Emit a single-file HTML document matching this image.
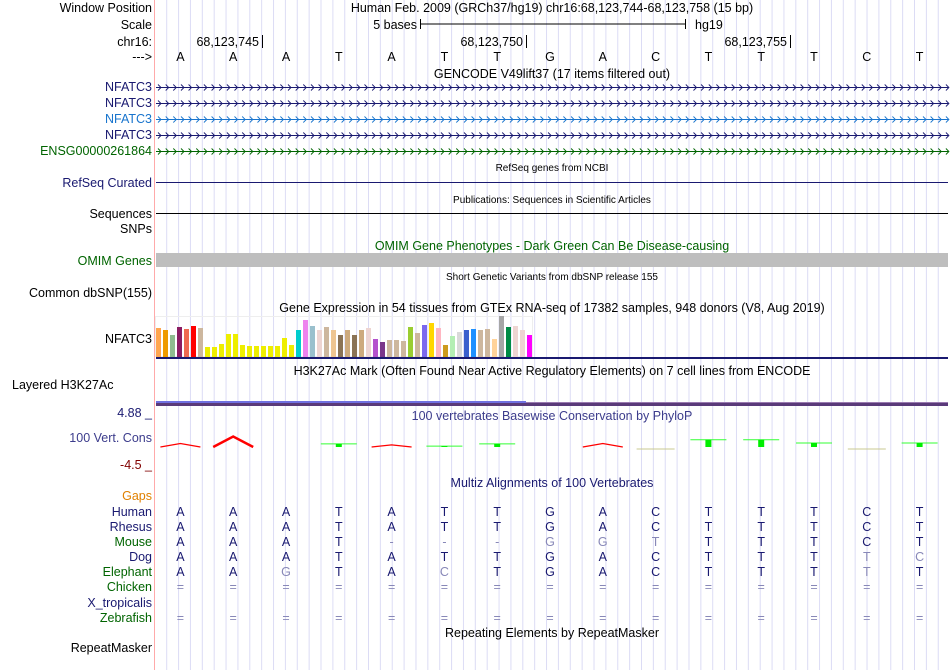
<!DOCTYPE html>
<html><head><meta charset="utf-8"><style>
html,body{margin:0;padding:0;background:#fff;width:950px;height:670px;overflow:hidden}
svg{display:block;font-family:"Liberation Sans",sans-serif}
</style></head><body>
<svg id="s" width="950" height="670" viewBox="0 0 950 670">
<g id="grid"></g>
<line x1="154.5" y1="0" x2="154.5" y2="670" stroke="#ffaaaa" stroke-width="1"/>
<g id="labels" font-size="12.5" text-anchor="end"></g>
<g id="main" font-size="12.5"></g>
</svg>
<script>
const NS="http://www.w3.org/2000/svg";
const main=document.getElementById('main');
const labs=document.getElementById('labels');
const grid=document.getElementById('grid');
function mk(tag,attrs,parent,txt){const e=document.createElementNS(NS,tag);for(const k in attrs)e.setAttribute(k,attrs[k]);if(txt!==undefined)e.textContent=txt;(parent||main).appendChild(e);return e;}

// ---- data ----
const bases=["A","A","A","T","A","T","T","G","A","C","T","T","T","C","T"];
const mouse=["A","A","A","T","-","-","-","G","G","T","T","T","T","C","T"];
const mouseGray=[0,0,0,0,1,1,1,1,1,1,0,0,0,0,0];
const dog=["A","A","A","T","A","T","T","G","A","C","T","T","T","T","C"];
const dogGray=[0,0,0,0,0,0,0,0,0,0,0,0,0,1,1];
const eleph=["A","A","G","T","A","C","T","G","A","C","T","T","T","T","T"];
const elephGray=[0,0,1,0,0,1,0,0,0,0,0,0,0,1,0];
const phylop=[-0.5,-1.5,0,0.35,-0.3,0.1,0.35,0,-0.5,-0.2,0.8,0.8,0.45,-0.2,0.45];
const gtexValues=[29,27,22,30,28,31,29,10,10,13,23,23,12,11,11,11,11,11,19,12,27,37,31,27,30,27,22,27,22,27,29,18,15,17,17,16,30,24,32,34,29,12,21,25,27,28,27,28,18,41,30,31,27,22];
const gtexColors=["#ffa54f","#ee9a00","#8fbc8f","#8b1c62","#ee6a50","#ff0000","#cdb79e","#eeee00","#eeee00","#eeee00","#eeee00","#eeee00","#eeee00","#eeee00","#eeee00","#eeee00","#eeee00","#eeee00","#eeee00","#eeee00","#00cdcd","#ee82ee","#9ac0cd","#eed5d2","#cdb79e","#eec591","#8b7355","#cdaa7d","#8b7355","#cdaa7d","#eed5d2","#b452cd","#7a378b","#cdb79e","#cdb79e","#cdb79e","#9acd32","#cdb79e","#7b68ee","#ffd700","#ffb6c1","#cd9b1d","#b4eeb4","#d9d9d9","#3a5fcd","#1e90ff","#cdb79e","#cdb79e","#ffd39b","#a6a6a6","#008b45","#eed5d2","#eed5d2","#ff00ff"];

const X0=154, BW=52.8;
const bx=i=>X0+BW*(i+0.5);

for(let x=166.7;x<950;x+=11.87){mk('line',{x1:x,y1:0,x2:x,y2:670,stroke:'#dcdcf5','stroke-width':1},grid);}

const L=[["Window Position",12,"#000"],["Scale",29,"#000"],["chr16:",46,"#000"],["--->",61,"#000"],
["NFATC3",91,"#191970"],["NFATC3",107,"#191970"],["NFATC3",123,"#1874cd"],["NFATC3",139,"#191970"],["ENSG00000261864",155,"#006400"],
["RefSeq Curated",187,"#191970"],["Sequences",218,"#000"],["SNPs",233,"#000"],["OMIM Genes",265,"#006400"],["Common dbSNP(155)",297,"#000"],
["NFATC3",343,"#000"],["100 Vert. Cons",442,"#3c3c8c"],["Gaps",500,"#e08000"],["Human",516,"#191970"],["Rhesus",531,"#191970"],["Mouse",546,"#006400"],["Dog",561,"#191970"],["Elephant",576,"#006400"],["Chicken",591,"#006400"],["X_tropicalis",607,"#191970"],["Zebrafish",622,"#006400"],["RepeatMasker",652,"#000"]];
L.forEach(l=>{const t=mk('text',{x:152,y:l[1],fill:l[2]},labs,l[0]);});
let t=mk('text',{x:12,y:389,fill:'#000'},main,"Layered H3K27Ac");
t=mk('text',{x:152,y:417,fill:'#191970','text-anchor':'end'},main,"4.88 _");
t=mk('text',{x:152,y:469,fill:'#800000','text-anchor':'end'},main,"-4.5 _");

function title(txt,x,y,fill,fs,name){const e=mk('text',{x:x,y:y,fill:fill,'text-anchor':'middle','font-size':fs},main,txt);}
title("Human Feb. 2009 (GRCh37/hg19)   chr16:68,123,744-68,123,758 (15 bp)",552,12,"#000",12.5,"window-position-title");
title("GENCODE V49lift37 (17 items filtered out)",552,78,"#000",12.5,"gencode-title");
title("RefSeq genes from NCBI",552,171,"#000",10,"refseq-title");
title("Publications: Sequences in Scientific Articles",552,203,"#000",10,"publications-title");
title("OMIM Gene Phenotypes - Dark Green Can Be Disease-causing",552,250,"#006400",12.5,"omim-title");
title("Short Genetic Variants from dbSNP release 155",552,280,"#000",10,"dbsnp-title");
title("Gene Expression in 54 tissues from GTEx RNA-seq of 17382 samples, 948 donors (V8, Aug 2019)",552,312,"#000",12.5,"gtex-title");
title("H3K27Ac Mark (Often Found Near Active Regulatory Elements) on 7 cell lines from ENCODE",552,375,"#000",12.5,"h3k27ac-title");
title("100 vertebrates Basewise Conservation by PhyloP",552,420,"#3c3c8c",12.5,"phylop-title");
title("Multiz Alignments of 100 Vertebrates",552,487,"#191970",12.5,"multiz-title");
title("Repeating Elements by RepeatMasker",552,637,"#000",12.5,"repeatmasker-title");

t=mk('text',{x:417,y:29,'text-anchor':'end'},main,"5 bases");
mk('path',{d:'M420.5 19v10M420.5 24H685.5M685.5 19v10',stroke:'#000',fill:'none'});
t=mk('text',{x:695,y:29},main,"hg19");
[[262,"68,123,745"],[526,"68,123,750"],[790,"68,123,755"]].forEach(p=>{
 const e=mk('text',{x:p[0]-3,y:46,'text-anchor':'end'},main,p[1]);
 mk('line',{x1:p[0]+0.5,y1:35,x2:p[0]+0.5,y2:48,stroke:'#000'});
});
bases.forEach((b,i)=>{const e=mk('text',{x:bx(i),y:61,'text-anchor':'middle'},main,b);});

[[87,'#191970'],[103,'#191970'],[119,'#1874cd'],[135,'#191970'],[151,'#006400']].forEach(r=>{
 let d=`M156 ${r[0]+.5}H948`;
 for(let x=158;x<946;x+=7.65)d+=`M${x.toFixed(1)} ${r[0]-2.5}l3 3l-3 3`;
 const e=mk('path',{d:d,stroke:r[1],fill:'none','stroke-width':0.9});
});
let e=mk('line',{x1:156,y1:182.5,x2:948,y2:182.5,stroke:'#191970'});
e=mk('line',{x1:156,y1:213.5,x2:948,y2:213.5,stroke:'#000'});
e=mk('rect',{x:156,y:253,width:792,height:14,fill:'#bebebe'});

// GTEx
mk('rect',{x:155.5,y:316.5,width:377,height:40,fill:'none',stroke:'#eee'});
const gBase=357, gScale=1;
gtexValues.forEach((v,i)=>{
 const h=v*gScale;
 const r=mk('rect',{x:156+i*7,y:gBase-h,width:5,height:h,fill:gtexColors[i]});
 
 
});
mk('rect',{x:156,y:357,width:792,height:2,fill:'#191970'});

// H3K27Ac
mk('rect',{x:156,y:401,width:370,height:2,fill:'#7070e0'});
mk('rect',{x:526,y:402,width:422,height:1,fill:'#9a7ab0'});
mk('rect',{x:156,y:403,width:792,height:3,fill:'#5a3a7a'});

// PhyloP
const pBase=447, pS=9;
phylop.forEach((v,i)=>{
 const c=bx(i);
 if(v>0){
  const y=pBase-v*pS;
  let l=mk('line',{x1:c-18,y1:y,x2:c+18,y2:y,stroke:'#33ff33','stroke-width':1});
  let q=mk('rect',{x:c-3,y:y,width:6,height:pBase-y,fill:'#00ee00'});
 } else if(v<0){
  const h=-v*7;
  if(v<-0.25){
   let p=mk('path',{d:`M${c-20} ${pBase}L${c} ${pBase-h}L${c+20} ${pBase}`,stroke:'#ff0000',fill:'none','stroke-width':v<-1?2.5:1.3});
  } else {
   let p=mk('line',{x1:c-19,y1:pBase+2,x2:c+19,y2:pBase+2,stroke:'#c8c890','stroke-width':1});
  }
 }
});

function row(arr,gray,y,name){arr.forEach((b,i)=>{const e=mk('text',{x:bx(i),y:y,'text-anchor':'middle',fill:gray&&gray[i]?'#8888b8':'#191970'},main,b);});}
row(bases,null,516,'human-base');row(bases,null,531,'rhesus-base');
row(mouse,mouseGray,546,'mouse-base');row(dog,dogGray,561,'dog-base');row(eleph,elephGray,576,'elephant-base');
const eq=bases.map(()=>"=");const eqg=bases.map(()=>1);
row(eq,eqg,591,'chicken-base');row(eq,eqg,622,'zebrafish-base');
</script>
</body></html>
